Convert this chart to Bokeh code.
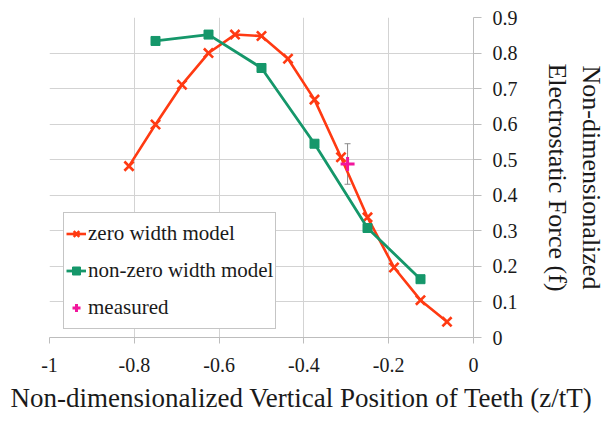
import math
from bokeh.plotting import figure
from bokeh.models import (Range1d, FixedTicker, Legend, LegendItem, Title,
                          Whisker, ColumnDataSource, TeeHead, CustomJSTickFormatter)
from bokeh.embed import file_html
from bokeh.resources import INLINE

# ---------------- data ----------------
zero_x = [-0.8125, -0.75, -0.6875, -0.625, -0.5625, -0.5, -0.4375,
          -0.375, -0.3125, -0.25, -0.1875, -0.125, -0.0625]
zero_y = [0.482, 0.599, 0.711, 0.800, 0.852, 0.848, 0.784,
          0.669, 0.507, 0.338, 0.197, 0.105, 0.044]
nonzero_x = [-0.75, -0.625, -0.5, -0.375, -0.25, -0.125]
nonzero_y = [0.834, 0.852, 0.758, 0.545, 0.308, 0.164]
measured_x = [-0.297]
measured_y = [0.488]
measured_err = [0.057]

x_ticks = [-1, -0.8, -0.6, -0.4, -0.2, 0]
x_tick_labels = ["-1", "-0.8", "-0.6", "-0.4", "-0.2", "0"]
y_ticks = [0, 0.1, 0.2, 0.3, 0.4, 0.5, 0.6, 0.7, 0.8, 0.9]
y_tick_labels = ["0", "0.1", "0.2", "0.3", "0.4", "0.5", "0.6", "0.7", "0.8", "0.9"]

series_names = ["zero width model", "non-zero width model", "measured"]
x_title = "Non-dimensionalized Vertical Position of Teeth (z/tT)"
y_title = "Non-dimensionalized\nElectrostatic Force (f)"

# ---------------- style ----------------
RED = "#FF3A12"
GREEN = "#15976A"
MAG = "#F2169C"
GRID = "#D3D3D3"
AXIS = "#BDBDBD"
TXT = "#1a1a1a"
SERIF = "Liberation Serif"

W, H = 609, 421
L, T, FW, FH = 49, 17, 429, 320
XMIN, XMAX, YMIN, YMAX = -1.0, 0.0, 0.0, 0.9

p = figure(width=W, height=H, x_range=Range1d(XMIN, XMAX), y_range=Range1d(YMIN, YMAX),
           y_axis_location="right", output_backend="svg", toolbar_location=None,
           min_border_left=L, min_border_top=T,
           min_border_right=W - L - FW, min_border_bottom=H - T - FH)
p.outline_line_color = None
p.background_fill_color = "white"
p.border_fill_color = "white"


def js_formatter(ticks, labels):
    mapping = "{" + ",".join(f'"{t:.1f}": "{s}"' for t, s in zip(ticks, labels)) + "}"
    return CustomJSTickFormatter(code=f"const m = {mapping}; const k = tick.toFixed(1); "
                                      f"return (k in m) ? m[k] : String(tick);")


p.xaxis.ticker = FixedTicker(ticks=x_ticks)
p.yaxis.ticker = FixedTicker(ticks=y_ticks)
p.xaxis.formatter = js_formatter(x_ticks, x_tick_labels)
p.yaxis.formatter = js_formatter(y_ticks, y_tick_labels)
for ax, tout, so in ((p.xaxis, 6, 14), (p.yaxis, 8, 11)):
    ax.axis_line_color = AXIS
    ax.axis_line_width = 1
    ax.major_tick_line_color = AXIS
    ax.major_tick_out = tout
    ax.major_tick_in = 0
    ax.minor_tick_line_color = None
    ax.major_label_text_font = SERIF
    ax.major_label_text_font_style = "normal"
    ax.major_label_text_font_size = "20px"
    ax.major_label_text_color = TXT
    ax.major_label_standoff = so

p.yaxis.axis_label = y_title
p.yaxis.axis_label_text_font = SERIF
p.yaxis.axis_label_text_font_style = "normal"
p.yaxis.axis_label_text_font_size = "26px"
p.yaxis.axis_label_text_color = TXT
p.yaxis.axis_label_standoff = 22

p.add_layout(Title(text=x_title, align="left", offset=-39, text_font=SERIF,
                   text_font_size="27px", text_font_style="normal", text_color=TXT,
                   standoff=13), "below")

p.xgrid.grid_line_color = GRID
p.ygrid.grid_line_color = GRID

# ---------------- glyphs ----------------
r_zl = p.line(zero_x, zero_y, line_color=RED, line_width=2.6)
r_zs = p.scatter(zero_x, zero_y, marker="x", size=13, line_color=RED, line_width=2.6)
r_nl = p.line(nonzero_x, nonzero_y, line_color=GREEN, line_width=2.8)
r_ns = p.scatter(nonzero_x, nonzero_y, marker="square", size=9, fill_color=GREEN,
                 line_color=GREEN, line_width=1)

err_src = ColumnDataSource(dict(
    base=measured_x,
    lower=[y - e for y, e in zip(measured_y, measured_err)],
    upper=[y + e for y, e in zip(measured_y, measured_err)],
))
whisk = Whisker(source=err_src, base="base", lower="lower", upper="upper", dimension="height",
                line_color="#8A8A8A", line_width=1,
                upper_head=TeeHead(size=6, line_color="#8A8A8A", line_width=1),
                lower_head=TeeHead(size=6, line_color="#8A8A8A", line_width=1))
p.add_layout(whisk)
r_m = p.scatter(measured_x, measured_y, marker="cross", size=14, line_color=MAG, line_width=3)

legend = Legend(items=[
    LegendItem(label=series_names[0], renderers=[r_zl, r_zs]),
    LegendItem(label=series_names[1], renderers=[r_nl, r_ns]),
    LegendItem(label=series_names[2], renderers=[r_m]),
], location=(14, 8))
legend.border_line_color = "#8C8C8C"
legend.border_line_width = 1
legend.background_fill_color = "white"
legend.background_fill_alpha = 1
legend.padding = 2
legend.spacing = 0
legend.margin = 0
legend.glyph_width = 20
legend.glyph_height = 37
legend.label_height = 37
legend.label_standoff = 2
legend.label_text_font = SERIF
legend.label_text_font_size = "21px"
legend.label_text_color = TXT
p.add_layout(legend)

open("out.html", "w").write(file_html(p, INLINE))
